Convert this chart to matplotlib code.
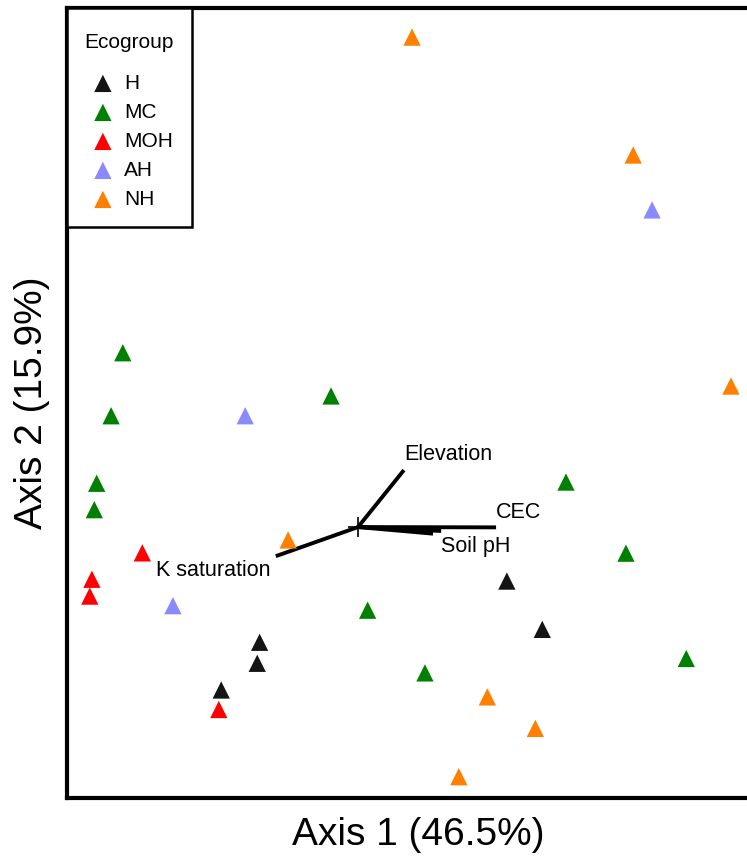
import matplotlib
matplotlib.use("Agg")
from matplotlib import pyplot as plt

plt.rcParams['font.family'] = ['Liberation Sans', 'DejaVu Sans']

# site scores (axis 1, axis 2) per ecogroup
groups = ["H", "MC", "MOH", "AH", "NH"]
colors = ["#141414", "#008000", "#FF0000", "#8A8AFF", "#FF8000"]

h_x = [0.496, 0.614, -0.328, -0.336, -0.456]
h_y = [-0.180, -0.341, -0.384, -0.454, -0.543]

mc_x = [-0.784, -0.823, -0.090, -0.871, -0.879, 0.693, 0.893, 0.032, 0.223, 1.094]
mc_y = [0.581, 0.371, 0.437, 0.146, 0.058, 0.150, -0.087, -0.277, -0.486, -0.438]

moh_x = [-0.719, -0.887, -0.894, -0.464]
moh_y = [-0.086, -0.174, -0.230, -0.608]

ah_x = [0.980, -0.376, -0.617]
ah_y = [1.057, 0.371, -0.262]

nh_x = [0.180, 0.917, 1.243, -0.233, 0.431, 0.591, 0.336]
nh_y = [1.633, 1.240, 0.470, -0.043, -0.566, -0.671, -0.832]

# environmental vectors
vec_names = ["Elevation", "CEC", "Soil pH", "", "K saturation"]
vec_x = [0.153, 0.460, 0.277, 0.250, -0.274]
vec_y = [0.190, -0.001, -0.013, -0.022, -0.097]
# label offsets in points and alignment
vec_off = [(0, 11), (0, 11), (0, -11), (0, 0), (-4, -10)]
vec_ha = ["left", "left", "left", "left", "right"]

xs = [h_x, mc_x, moh_x, ah_x, nh_x]
ys = [h_y, mc_y, moh_y, ah_y, nh_y]

fig = plt.figure(figsize=(7.47, 8.56), dpi=100)
W, H = 747.0, 856.0
ax = fig.add_axes([67 / W, 58 / H, (770 - 67) / W, (798 - 8) / H])

for g, c, x, y in zip(groups, colors, xs, ys):
    ax.scatter(x, y, marker="^", s=155, color=c, edgecolors="none",
               label=g, zorder=3)

for name, vx, vy, off, ha in zip(vec_names, vec_x, vec_y, vec_off, vec_ha):
    ax.plot([0, vx], [0, vy], color="black", lw=2.8, solid_capstyle="butt",
            zorder=2)
    if name:
        ax.annotate(name, (vx, vy), xytext=off, textcoords="offset points",
                    ha=ha, va="center", fontsize=15.5)
ax.plot([0], [0], marker="+", ms=14, mew=1.2, color="black", zorder=2)

ax.set_xlim(-0.97, 1.373)
ax.set_ylim(-0.903, 1.73)
ax.set_xticks([])
ax.set_yticks([])
for sp in ax.spines.values():
    sp.set_linewidth(3)
ax.set_xlabel("Axis 1 (46.5%)", fontsize=28, labelpad=14)
ax.set_ylabel("Axis 2 (15.9%)", fontsize=28, labelpad=12)

leg = ax.legend(title="Ecogroup", loc="upper left", bbox_to_anchor=(0, 1),
                borderaxespad=0, fontsize=15, title_fontsize=15,
                fancybox=False, edgecolor="black", framealpha=1,
                borderpad=0.85, handlelength=1.63, handletextpad=0.2,
                labelspacing=0.48, scatterpoints=1, markerscale=1.0)
leg.get_frame().set_linewidth(1.8)
leg._legend_box.sep = 21
# push the title down a little inside the box
leg.get_title().set_position((0, -7))

fig.savefig("out.png", dpi=100)
